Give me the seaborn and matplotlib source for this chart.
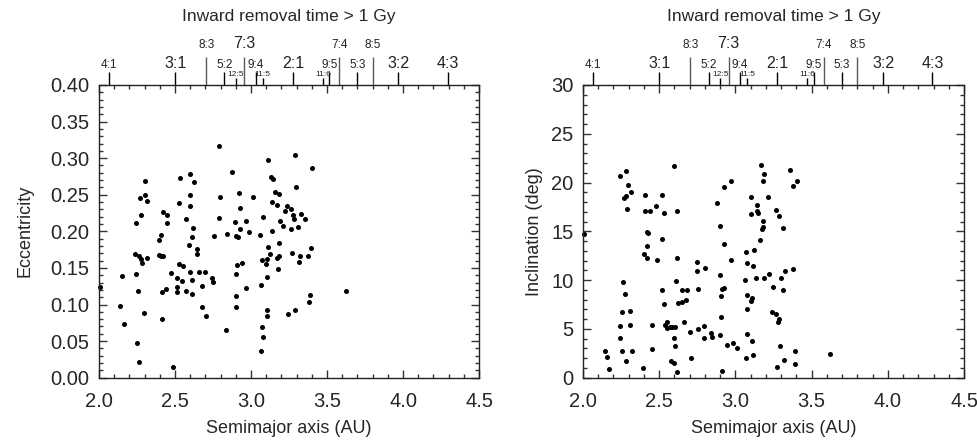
import numpy as np
import pandas as pd
import seaborn as sns
from matplotlib import pyplot as plt
from matplotlib.ticker import MultipleLocator, NullLocator

# eccentricity panel (semimajor axis AU, eccentricity)
ecc_a = [2.792, 3.114, 3.289, 3.401, 2.877, 2.535, 2.601, 2.623, 2.303, 3.132,
         3.145, 3.298, 2.272, 2.305, 2.318, 2.528, 2.599, 2.599, 2.796, 2.919,
         3.011, 3.158, 3.182, 3.136, 3.173, 2.925, 3.235, 3.261, 3.221, 3.327,
         3.274, 3.285, 3.357, 3.309, 3.261, 3.211, 3.189, 2.279, 2.243, 2.419,
         2.450, 2.450, 2.570, 2.616, 2.792, 2.897, 2.969, 2.925, 2.987, 3.077,
         3.138, 3.061, 2.844, 2.899, 2.912, 2.754, 2.406, 2.610, 2.393, 2.594,
         2.645, 2.647, 2.239, 2.263, 2.274, 2.283, 2.314, 2.395, 2.408, 2.421,
         2.154, 2.243, 2.257, 2.140, 2.164, 2.250, 2.261, 2.007, 2.296, 2.417,
         2.439, 2.417, 2.476, 2.487, 2.515, 2.511, 2.515, 2.528, 2.550, 2.548,
         2.572, 2.596, 2.612, 2.612, 2.660, 2.680, 2.700, 2.675, 2.704, 2.746,
         2.750, 2.836, 2.899, 2.908, 2.941, 2.967, 2.904, 2.904, 3.068, 3.075,
         3.099, 3.107, 3.114, 3.123, 3.107, 3.182, 3.171, 3.186, 3.180, 3.272,
         3.314, 3.320, 3.377, 3.393, 3.390, 3.379, 3.246, 3.292, 3.103, 3.103,
         3.075, 3.077, 3.068, 3.623]
ecc_e = [0.316, 0.298, 0.304, 0.286, 0.281, 0.273, 0.278, 0.267, 0.269, 0.274,
         0.272, 0.261, 0.246, 0.249, 0.241, 0.239, 0.250, 0.235, 0.247, 0.253,
         0.247, 0.254, 0.251, 0.240, 0.236, 0.232, 0.234, 0.230, 0.228, 0.224,
         0.223, 0.217, 0.217, 0.206, 0.203, 0.208, 0.214, 0.222, 0.211, 0.226,
         0.222, 0.211, 0.217, 0.205, 0.218, 0.213, 0.214, 0.203, 0.199, 0.220,
         0.200, 0.195, 0.196, 0.194, 0.192, 0.193, 0.195, 0.192, 0.188, 0.182,
         0.176, 0.169, 0.169, 0.167, 0.162, 0.157, 0.163, 0.168, 0.167, 0.167,
         0.139, 0.142, 0.118, 0.098, 0.074, 0.048, 0.021, 0.124, 0.089, 0.117,
         0.121, 0.080, 0.143, 0.015, 0.136, 0.124, 0.117, 0.156, 0.152, 0.132,
         0.119, 0.145, 0.134, 0.115, 0.145, 0.126, 0.145, 0.096, 0.085, 0.136,
         0.131, 0.065, 0.142, 0.154, 0.157, 0.122, 0.111, 0.096, 0.127, 0.161,
         0.156, 0.162, 0.179, 0.169, 0.137, 0.184, 0.164, 0.166, 0.149, 0.171,
         0.158, 0.167, 0.166, 0.177, 0.113, 0.104, 0.087, 0.092, 0.093, 0.084,
         0.069, 0.055, 0.036, 0.118]

# inclination panel (semimajor axis AU, inclination deg)
inc_a = [2.241, 2.284, 2.297, 2.315, 2.267, 2.282, 2.289, 2.409, 2.409, 2.440,
         2.479, 2.516, 2.534, 2.599, 2.615, 2.422, 2.424, 2.521, 2.881, 2.899,
         2.927, 2.969, 3.168, 3.190, 3.181, 3.102, 3.212, 3.140, 3.142, 3.149,
         3.102, 3.266, 3.288, 3.183, 3.181, 3.172, 3.312, 3.358, 3.380, 3.402,
         2.004, 3.161, 2.398, 2.420, 2.420, 2.488, 2.615, 2.927, 2.971, 3.070,
         3.124, 2.750, 2.748, 2.798, 2.901, 3.078, 3.118, 3.061, 3.137, 3.188,
         3.223, 3.299, 3.328, 3.376, 2.265, 2.278, 2.254, 2.306, 2.245, 2.306,
         2.245, 2.258, 2.322, 2.282, 2.147, 2.157, 2.168, 2.396, 2.453, 2.455,
         2.518, 2.531, 2.536, 2.549, 2.551, 2.571, 2.584, 2.604, 2.599, 2.604,
         2.575, 2.597, 2.619, 2.610, 2.626, 2.650, 2.650, 2.676, 2.680, 2.661,
         2.706, 2.704, 2.752, 2.757, 2.794, 2.794, 2.838, 2.846, 2.899, 2.906,
         2.906, 2.910, 2.923, 2.914, 2.947, 2.986, 3.010, 3.072, 3.116, 3.109,
         3.076, 3.076, 3.107, 3.100, 3.076, 3.249, 3.310, 3.238, 3.266, 3.284,
         3.277, 3.290, 3.271, 3.321, 3.393, 3.389, 3.623]
inc_i = [20.65, 21.19, 19.73, 19.04, 18.46, 18.67, 17.24, 18.70, 17.13, 17.10,
         17.58, 18.77, 16.89, 21.67, 17.06, 14.95, 14.81, 14.20, 17.92, 15.50,
         19.52, 20.14, 21.84, 20.89, 20.20, 18.57, 18.57, 17.68, 17.13, 16.89,
         16.79, 17.17, 16.55, 16.04, 15.46, 15.29, 15.39, 21.30, 19.69, 20.20,
         14.71, 14.11, 12.67, 12.23, 13.53, 12.09, 12.26, 13.66, 12.05, 12.84,
         13.08, 11.82, 10.92, 11.27, 10.51, 11.71, 11.44, 10.03, 10.17, 10.17,
         10.68, 10.27, 10.96, 11.13, 9.79, 8.53, 6.71, 6.85, 5.34, 5.45,
         4.08, 2.71, 2.71, 1.68, 2.77, 2.16, 0.86, 0.96, 2.98, 5.45,
         9.01, 7.60, 5.45, 5.68, 5.14, 5.24, 5.21, 5.21, 4.11, 3.29,
         1.75, 1.51, 0.62, 9.93, 7.64, 7.71, 9.01, 7.95, 9.01, 5.75,
         2.02, 4.69, 5.03, 9.14, 5.34, 4.04, 4.55, 4.21, 4.38, 6.20,
         8.39, 9.08, 9.18, 0.68, 3.36, 3.56, 3.05, 2.05, 2.29, 3.77,
         4.45, 8.46, 8.18, 7.88, 7.05, 9.25, 8.97, 6.75, 6.54, 5.99,
         5.72, 3.22, 1.13, 1.82, 2.77, 1.40, 2.43]

# mean-motion resonances marked along the top axis
res_big_pos = [2.502, 3.276, 3.970, 4.293]
res_big_lbl = ["3:1", "2:1", "3:2", "4:3"]
res_mid_pos = [2.065, 2.825, 3.030, 3.516, 3.700]
res_mid_lbl = ["4:1", "5:2", "9:4", "9:5", "5:3"]
res_small_pos = [2.900, 3.076, 3.473]
res_small_lbl = ["12:5", "11:5", "11:6"]
res_long_pos = [2.705, 2.955, 3.580, 3.800]
res_long_lbl = ["8:3", "7:3", "7:4", "8:5"]

sns.set_style("ticks")
plt.rcParams['font.family'] = ['Liberation Sans', 'DejaVu Sans']


def add_resonances(ax):
    """draw the resonance tick marks and labels above the top spine"""
    groups = [
        (res_big_pos, res_big_lbl, 9.4, 11.5, 0.5, 'black'),
        (res_mid_pos, res_mid_lbl, 9.4, 8.5, 0.5, 'black'),
        (res_small_pos, res_small_lbl, 5.0, 6.0, 0.3, 'black'),
        (res_long_pos, res_long_lbl, 20.0, 8.5, 4.5, '0.35'),
    ]
    for pos, lbl, length, size, pad, col in groups:
        sec = ax.secondary_xaxis('top')
        sec.set_xticks(pos, labels=lbl)
        sec.xaxis.set_minor_locator(NullLocator())
        sec.tick_params(direction='out', length=length, width=1.0, pad=pad,
                        labelsize=size, color=col, labelcolor='#222222')
        for s in sec.spines.values():
            s.set_visible(False)
        if lbl is res_long_lbl:
            sec.get_xticklabels()[1].set_fontsize(11.5)


def style_axes(ax, ymax, ymajor, yminor, ylabel, ypad):
    ax.set_xlim(2.0, 4.5)
    ax.set_ylim(0, ymax)
    ax.xaxis.set_major_locator(MultipleLocator(0.5))
    ax.xaxis.set_minor_locator(MultipleLocator(0.1))
    ax.yaxis.set_major_locator(MultipleLocator(ymajor))
    ax.yaxis.set_minor_locator(MultipleLocator(yminor))
    ax.tick_params(which='both', direction='in', top=True, right=True,
                   labeltop=False, color='#333333', width=1.0)
    ax.tick_params(which='major', length=6, labelsize=14.5)
    ax.tick_params(which='minor', length=3)
    ax.tick_params(axis='x', which='major', pad=10)
    ax.tick_params(axis='y', which='major', pad=7)
    for s in ax.spines.values():
        s.set_color('#222222')
        s.set_linewidth(1.0)
    ax.set_xlabel('Semimajor axis (AU)', fontsize=13, labelpad=7)
    ax.set_ylabel(ylabel, fontsize=13, labelpad=ypad)
    ax.set_title('Inward removal time > 1 Gy', fontsize=12.5, pad=46)
    add_resonances(ax)


fig = plt.figure(figsize=(9.77, 4.45), dpi=100)
ax1 = fig.add_axes([0.1013, 0.1512, 0.389, 0.6578])
ax2 = fig.add_axes([0.5967, 0.1512, 0.390, 0.6578])

df_e = pd.DataFrame({"a": ecc_a, "e": ecc_e})
df_i = pd.DataFrame({"a": inc_a, "i": inc_i})

sns.scatterplot(data=df_e, x="a", y="e", ax=ax1, color='black', s=13,
                linewidth=0, clip_on=False)
sns.scatterplot(data=df_i, x="a", y="i", ax=ax2, color='black', s=13,
                linewidth=0, clip_on=False)

style_axes(ax1, 0.40, 0.05, 0.01, 'Eccentricity', 12)
style_axes(ax2, 30, 5, 1, 'Inclination (deg)', 6)
ax1.yaxis.set_major_formatter(plt.FormatStrFormatter('%.2f'))
ax1.xaxis.set_major_formatter(plt.FormatStrFormatter('%.1f'))
ax2.xaxis.set_major_formatter(plt.FormatStrFormatter('%.1f'))

fig.savefig('out.png', dpi=100)
